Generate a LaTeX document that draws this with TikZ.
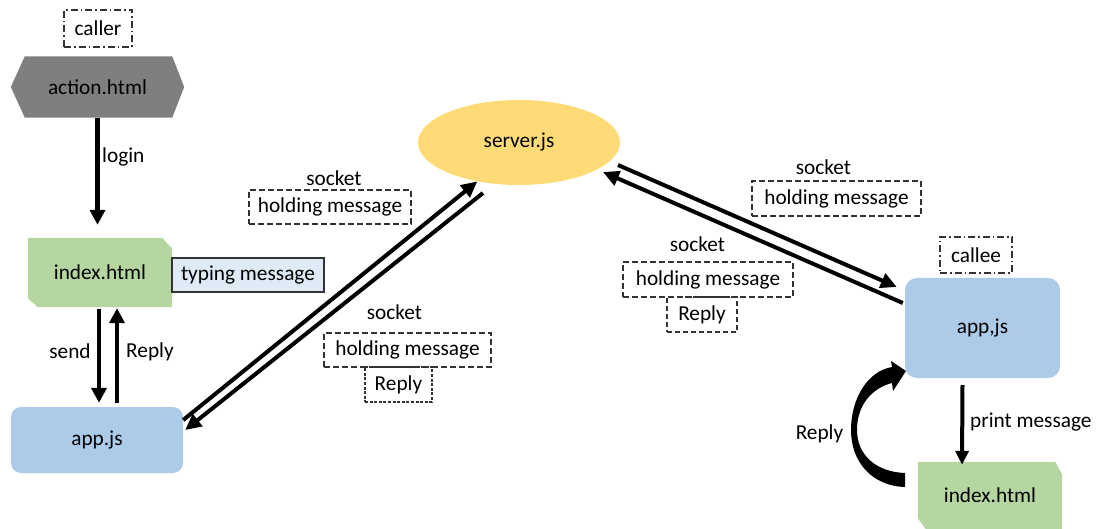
\documentclass[tikz,border=0pt]{standalone}
\usepackage{fontspec}
\setmainfont{Carlito}
\usetikzlibrary{arrows.meta,shapes.geometric,backgrounds}

\definecolor{hexgray}{HTML}{7F7F7F}
\definecolor{pagegreen}{HTML}{B5D6A0}
\definecolor{appblue}{HTML}{ABCBE9}
\definecolor{srvyellow}{HTML}{FEDB76}
\definecolor{typeblue}{HTML}{DEEBF7}
\definecolor{inkgray}{HTML}{333333}

\tikzset{
  lbl/.style={inner sep=0pt, text=black},
  shapebox/.style={inner sep=0pt, text=black},
  dashbox/.style={draw=inkgray, line width=1.2pt, dash pattern=on 6pt off 3pt, inner sep=0pt},
  finebox/.style={dashbox, dash pattern=on 3pt off 1.6pt},
  roletag/.style={dashbox, dash pattern=on 7pt off 3pt on 1.5pt off 3pt},
  flow/.style={line width=4.2pt, -{Triangle[length=15pt,width=15pt]}},
  wire/.style={line width=4pt, -{Triangle[length=16pt,width=15pt]}},
}

\begin{document}
\begin{tikzpicture}[x=1pt, y=-1pt, font=\fontsize{21.3}{25}\selectfont]
\useasboundingbox (0,0) rectangle (1098,529);

% ---------- caller side ----------
\node[roletag, minimum width=68pt, minimum height=37pt] (caller) at (98,28.5) {caller};
\node[shapebox, minimum width=173pt, minimum height=61pt] (action) at (97.5,87) {action.html};
\node[shapebox, minimum width=144pt, minimum height=69pt] (idxL) at (100,272.5) {index.html};
\node[draw=inkgray, line width=1.2pt, fill=typeblue, inner sep=0pt,
      minimum width=152pt, minimum height=34pt] (typing) at (248,275) {typing message};
\node[shapebox, fill=appblue, rounded corners=10pt,
      minimum width=172pt, minimum height=66pt] (appL) at (97,440) {app.js};

% ---------- server ----------
\node[shapebox, ellipse, fill=srvyellow, minimum width=202pt, minimum height=85pt] (server) at (519,142.5) {server.js};

% ---------- callee side ----------
\node[roletag, minimum width=72pt, minimum height=36pt] (callee) at (976,255) {callee};
\node[shapebox, fill=appblue, rounded corners=12pt,
      minimum width=155pt, minimum height=100pt] (appR) at (982.5,328) {app,js};
\node[shapebox, minimum width=144pt, minimum height=67pt] (idxR) at (990,495.5) {index.html};

% ---------- shape fills behind the text ----------
\begin{scope}[on background layer]
  \fill[hexgray] (action.west) -- ([xshift=14pt]action.north west) -- ([xshift=-12pt]action.north east)
    -- (action.east) -- ([xshift=-12pt]action.south east) -- ([xshift=14pt]action.south west) -- cycle;
  \fill[pagegreen] (idxL.north west) -- ([xshift=-10pt]idxL.north east) -- ([yshift=-11pt]idxL.north east)
    -- (idxL.south east) -- ([xshift=10pt]idxL.south west) -- ([yshift=9pt]idxL.south west) -- cycle;
  \fill[pagegreen] (idxR.north west) -- ([xshift=-7pt]idxR.north east) -- ([yshift=-13pt]idxR.north east)
    -- (idxR.south east) -- ([xshift=8pt]idxR.south west) -- ([yshift=11pt]idxR.south west) -- cycle;
\end{scope}

% ---------- connectors on the caller side ----------
\draw[flow, shorten >=13pt] (action.south) -- (action.south |- idxL.north);
\node[lbl, anchor=west] (login) at (102,157) {login};

\draw[flow] ([shift={(-1pt,-2pt)}]idxL.south) -- ([shift={(2pt,4pt)}]appL.north);
\draw[flow] ([shift={(20pt,4pt)}]appL.north) -- ([shift={(17pt,-1pt)}]idxL.south);
\node[lbl] (send) at (70,351.5) {send};
\node[lbl] (replyL) at (150,351.5) {Reply};

% ---------- caller app <-> server ----------
\draw[wire] ([yshift=20pt]appL.east) -- (server.223);
\draw[wire] ([shift={(-36pt,-50.5pt)}]server.center) -- ([shift={(2pt,10pt)}]appL.east);

\node[lbl] (sockA) at (334,178) {socket};
\node[dashbox, minimum width=162pt, minimum height=34pt] (holdA) at (330,207) {holding message};
\node[lbl] (sockB) at (394.5,312.5) {socket};
\node[dashbox, minimum width=167pt, minimum height=34pt] (holdB) at (407.5,350) {holding message};
\node[finebox, minimum width=67pt, minimum height=35pt] (replyB) at (398.5,384.5) {Reply};

% ---------- server <-> callee app ----------
\draw[wire] ([shift={(99pt,-22.5pt)}]server.center) -- ([shift={(-8pt,41pt)}]appR.west);
\draw[wire] ([shift={(-2pt,25pt)}]appR.west) -- ([shift={(84pt,-29.5pt)}]server.center);

\node[lbl] (sockC) at (823.5,167.5) {socket};
\node[dashbox, minimum width=169pt, minimum height=35pt] (holdC) at (836.5,198.5) {holding message};
\node[lbl] (sockD) at (697.5,244.5) {socket};
\node[dashbox, minimum width=170pt, minimum height=35pt] (holdD) at (708,279.5) {holding message};
\node[dashbox, dash pattern=on 5pt off 3pt, minimum width=70pt, minimum height=35pt] (replyD) at (702,314.5) {Reply};

% ---------- callee app -> page ----------
\draw[wire, -{Triangle[length=14pt,width=13pt]}] ([shift={(-20pt,-7pt)}]appR.south) -- ([shift={(-28pt,-3pt)}]idxR.north);
\node[lbl, anchor=west] (print) at (970,422.5) {print message};

% curved block arrow from the page back to the app
\fill[black] (905,487)
  .. controls (872,486) and (851,462) .. (851,430)
  .. controls (851,398) and (868,371) .. (892,367)
  -- (891,361) -- (906,371) -- (893,391) -- (892,383)
  .. controls (872,388) and (857,405) .. (857,430)
  .. controls (857,455) and (876,472) .. (905,473) -- cycle;
\node[lbl] (replyR) at (819.5,433.5) {Reply};

\end{tikzpicture}
\end{document}
